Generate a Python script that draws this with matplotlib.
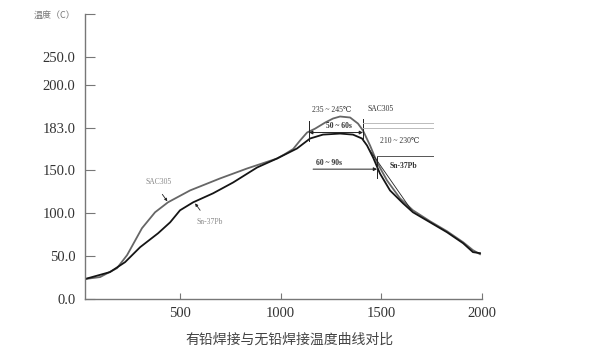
import numpy as np
import matplotlib
matplotlib.use("Agg")
import matplotlib.pyplot as plt

plt.rcParams["font.family"] = ["Liberation Serif", "DejaVu Serif", "DejaVu Sans"]

# ---- data
time_snpb = [28, 152, 227, 302, 391, 451, 500, 565, 664, 764, 883, 982, 1081,
             1146, 1210, 1295, 1359, 1404, 1429, 1459, 1493, 1543, 1608, 1657,
             1742, 1826, 1906, 1955, 1990]
temp_snpb = [23.3, 31.4, 43.0, 60.5, 76.7, 89.5, 103.5, 112.8, 123.3, 136.0,
             152.3, 159.2, 166.9, 174.6, 177.6, 178.4, 177.6, 174.6, 169.2,
             160.0, 146.5, 126.7, 111.6, 101.2, 89.5, 77.9, 65.1, 54.7, 53.5]

time_sac = [28, 103, 187, 237, 311, 376, 440, 550, 699, 833, 982, 1020, 1062,
            1096, 1131, 1171, 1221, 1260, 1295, 1345, 1384, 1409, 1444, 1479,
            1528, 1593, 1657, 1742, 1826, 1906, 1955, 1990]
temp_sac = [23.3, 25.6, 36.0, 51.2, 82.6, 101.2, 112.8, 126.7, 140.7, 151.5,
            159.2, 162.5, 166.5, 173.0, 179.2, 182.2, 185.0, 186.6, 187.4,
            187.0, 184.6, 180.7, 169.2, 156.1, 138.4, 117.4, 103.5, 90.7, 79.1,
            66.3, 57.0, 52.3]

ytick_vals = [0, 50, 100, 150, 183, 200, 250, 300]
ytick_labels = ["0.0", "50.0", "100.0", "150.0", "183.0", "200.0", "250.0",
                "温度（C）"]
xtick_vals = [500, 1000, 1500, 2000]
title = "有铅焊接与无铅焊接温度曲线对比"

# the original axis is not linear: labels sit at (almost) even steps
knot_t = [0, 50, 100, 150, 183, 200, 250, 300]
knot_p = [0, 1, 2, 3, 4, 5, 5.651, 6.651]


def forward(v):
    return np.interp(v, knot_t, knot_p)


def inverse(p):
    return np.interp(p, knot_p, knot_t)


fig = plt.figure(figsize=(6, 3.63), dpi=100)
ax = fig.add_axes([85 / 600, 1 - 299 / 363, (482 - 85) / 600, (299 - 14) / 363])
ax.set_yscale("function", functions=(forward, inverse))

ax.plot(time_sac, temp_sac, color="#666666", lw=1.3)
ax.plot(time_snpb, temp_snpb, color="#151515", lw=1.3)

ax.set_xlim(28, 2000)
ax.set_ylim(0, 300)
ax.set_xticks(xtick_vals)
ax.set_xticklabels([str(v) for v in xtick_vals])
ax.set_yticks(ytick_vals)
ax.set_yticklabels(ytick_labels)

for side in ["top", "right"]:
    ax.spines[side].set_visible(False)
for side in ["left", "bottom"]:
    ax.spines[side].set_color("#777777")
    ax.spines[side].set_linewidth(1.0)
ax.tick_params(axis="y", direction="in", length=7.2, width=0.8, color="#777777",
               pad=7, labelsize=10.5, labelcolor="#333333")
ax.tick_params(axis="x", direction="in", length=4, width=0.8, color="#777777",
               pad=6, labelsize=10.5, labelcolor="#333333")

# unit label sits on the top tick, smaller and lighter
unit = ax.get_yticklabels()[-1]
unit.set_family(["Noto Sans CJK SC", "DejaVu Sans"])
unit.set_fontsize(6.5)
unit.set_color("#777777")

# ---- annotations
small = dict(fontsize=5.5, color="#333333", ha="center", va="center")
ax.text(1255, 190.1, "235 ~ 245℃", **small)
ax.text(1494, 190.2, "SAC305", **small)
ax.text(1290, 183.6, "50 ~ 60s", fontweight="bold", **small)
ax.text(1593, 173.0, "210 ~ 230℃", **small)
ax.text(1608, 153.6, "Sn-37Pb", fontweight="bold", **small)
ax.text(1241, 155.6, "60 ~ 90s", fontweight="bold", **small)
ax.text(392, 136.0, "SAC305", fontsize=5.5, color="#888888", ha="center", va="center")
ax.text(645, 89.5, "Sn-37Pb", fontsize=5.5, color="#888888", ha="center", va="center")

line_kw = dict(color="#222222", lw=0.7)
ax.plot([1141, 1141], [173.0, 185.8], **line_kw)
ax.plot([1409, 1409], [173.0, 186.5], **line_kw)
ax.annotate("", xy=(1141, 179.2), xytext=(1409, 179.2),
            arrowprops=dict(arrowstyle="<|-|>", color="#222222", lw=0.7,
                            mutation_scale=5, shrinkA=0, shrinkB=0))
ax.plot([1409, 1757], [185.0, 185.0], color="#bbbbbb", lw=0.7)
ax.plot([1409, 1757], [183.0, 183.0], color="#bbbbbb", lw=0.7)
ax.plot([1479, 1757], [161.5, 161.5], color="#555555", lw=0.7)
ax.annotate("", xy=(1479, 151.0), xytext=(1161, 151.0),
            arrowprops=dict(arrowstyle="-|>", color="#222222", lw=0.7,
                            mutation_scale=5, shrinkA=0, shrinkB=0))
ax.plot([1479, 1479], [140.7, 160.0], **line_kw)
ax.plot([1444, 1657], [165.3, 101.2], color="#222222", lw=0.6)
ax.annotate("", xy=(437, 114.0), xytext=(412, 122.1),
            arrowprops=dict(arrowstyle="-|>", color="#222222", lw=0.6,
                            mutation_scale=4, shrinkA=0, shrinkB=0))
ax.annotate("", xy=(575, 111.6), xytext=(600, 103.5),
            arrowprops=dict(arrowstyle="-|>", color="#222222", lw=0.6,
                            mutation_scale=4, shrinkA=0, shrinkB=0))

fig.text(289 / 600, 1 - 340 / 363, title, family=["Noto Sans CJK SC", "DejaVu Sans"],
         fontsize=10, color="#444444", ha="center", va="center")

fig.savefig("out.png", dpi=100)
